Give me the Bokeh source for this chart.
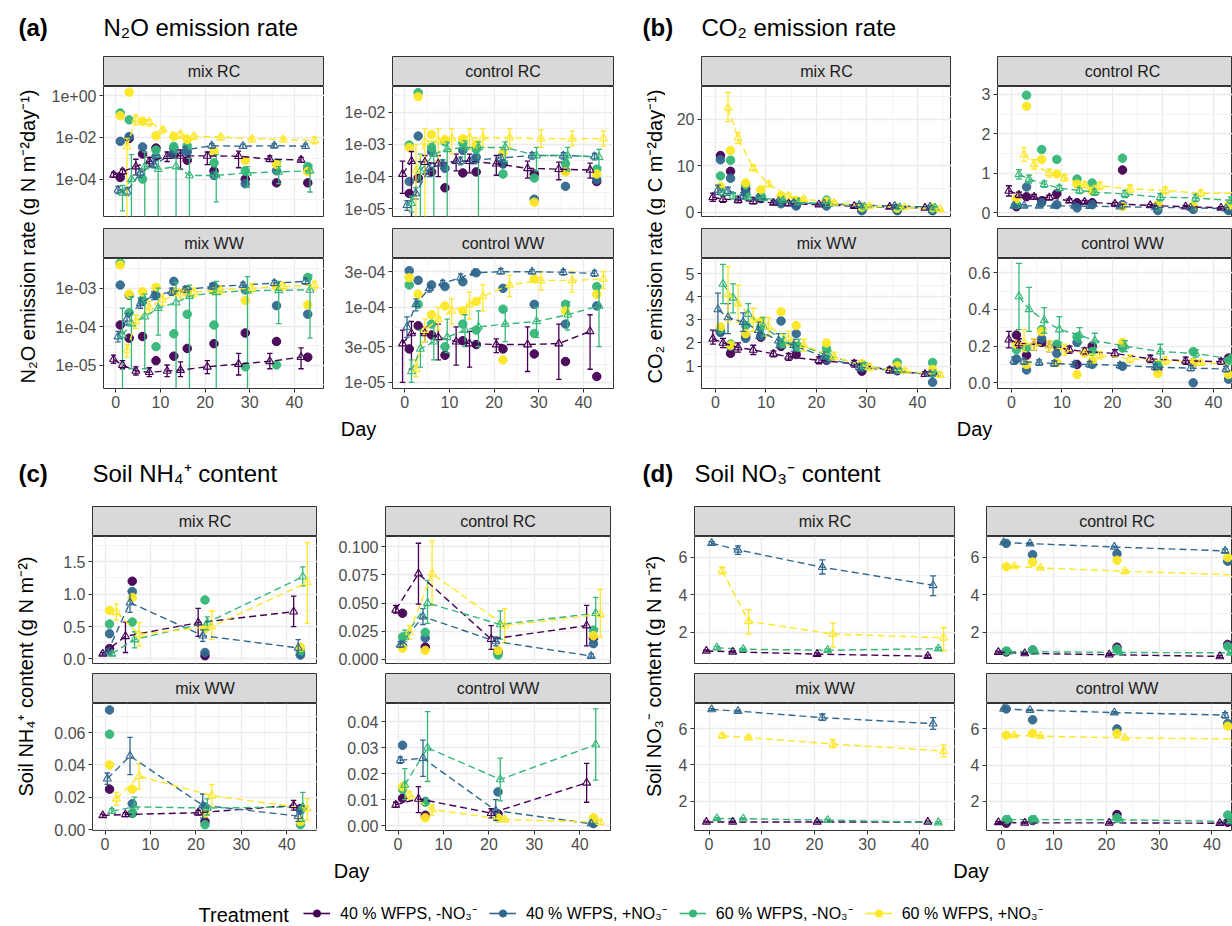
import math
import numpy as np
from bokeh.plotting import figure
from bokeh.layouts import row, column
from bokeh.models import (Range1d, LinearAxis, LogAxis, Grid, FixedTicker, LogScale,
                          NumeralTickFormatter, CustomJSTickFormatter, Label, Legend, LegendItem)
from bokeh.embed import file_html
from bokeh.resources import INLINE

FONT = "Liberation Sans"
COLORS = ["#440154", "#31688E", "#35B779", "#FDE725"]
TREATMENTS = ["40 % WFPS, -NO\u2083\u207b", "40 % WFPS, +NO\u2083\u207b",
              "60 % WFPS, -NO\u2083\u207b", "60 % WFPS, +NO\u2083\u207b"]
DODGE = [-1.5, -0.5, 0.5, 1.5]
GAS_DAYS = [1, 3, 6, 9, 13, 16, 22, 29, 36, 43]
SOIL_DAYS = [1, 6, 22, 43]
X_TICKS = [0, 10, 20, 30, 40]
X_MINOR = [5, 15, 25, 35, 45]
FACETS = ["mix RC", "control RC", "mix WW", "control WW"]

# ---------------- (a) N2O emission rate ----------------
N2O_MIX_RC_MEAN = [[1.6e-4, 2.3e-4, 4e-4, 7e-4, 1.26e-3, 1.3e-3, 1.3e-3, 1.26e-3, 9e-4, 8.3e-4],
                   [3e-5, 2.5e-5, 2e-4, 5e-4, 1.5e-3, 2.5e-3, 4e-3, 3.8e-3, 4e-3, 3.8e-3],
                   [2.2e-5, 1e-4, 4e-4, 3e-4, 4e-4, 1.5e-4, 1.5e-4, 2e-4, 2.2e-4, 2.5e-4],
                   [3.7e-3, 7.4e-2, 5.5e-2, 2.4e-2, 1.4e-2, 1.15e-2, 1.05e-2, 8.5e-3, 8e-3, 7.2e-3]]
N2O_MIX_RC_LO = [[1.2e-4, 1.7e-4, 1.6e-4, 4e-4, 7e-4, 3e-4, 5e-4, 3.5e-4, 7e-4, 6.5e-4],
                 [2e-5, 1.6e-5, 1.2e-4, 3.5e-4, 1e-3, 1.8e-3, 3e-3, 3e-3, 3.2e-3, 3e-3],
                 [3e-6, 0, 0, 0, 0, 0, 8e-6, 4e-5, 6e-5, 2.4e-5],
                 [0, 4e-2, 3.5e-2, 1.6e-2, 9e-3, 8e-3, 7.5e-3, 6e-3, 6e-3, 5e-3]]
N2O_MIX_RC_HI = [[2.1e-4, 3e-4, 9e-4, 1.1e-3, 2e-3, 2.5e-3, 2e-3, 2.2e-3, 1.3e-3, 1.1e-3],
                 [4.5e-5, 4e-5, 3e-4, 7e-4, 2e-3, 3.5e-3, 5e-3, 4.8e-3, 5e-3, 4.8e-3],
                 [5e-5, 1.5e-3, 2e-3, 1.2e-3, 2e-3, 1e-3, 1.5e-3, 4e-4, 4e-4, 4.8e-4],
                 [9e-3, 1.2e-1, 7e-2, 3e-2, 1.8e-2, 1.4e-2, 1.3e-2, 1.1e-2, 1e-2, 1e-2]]
N2O_MIX_RC_PTS = [[1.2e-4, 9e-3, 1.6e-3, 3.1e-3, 1.6e-3, 8e-4, 2.5e-4, 1e-4, 6.6e-5, 6.6e-5],
                  [6.5e-3, 1.1e-2, 3.5e-3, 1.2e-3, 3e-3, 2e-3, 1.5e-4, 6e-5, 2.5e-4, 3e-4],
                  [0.15, 0.07, 1e-4, 2.5e-3, 3.7e-3, 4e-3, 6e-4, 2.5e-4, 6e-4, 4e-4],
                  [0.11, 1.5, 0.06, 1.2e-2, 1.1e-2, 8e-3, 2.2e-3, 8e-4, 5e-4, 2.3e-4]]

N2O_CTRL_RC_MEAN = [[1.2e-4, 3e-4, 2.8e-4, 2.5e-4, 3e-4, 3e-4, 2.5e-4, 1.8e-4, 1.7e-4, 1.6e-4],
                    [1.3e-5, 3e-5, 1.8e-4, 2.5e-4, 3e-4, 3.2e-4, 3.8e-4, 4.5e-4, 4.5e-4, 4.2e-4],
                    [1.5e-5, 1.5e-4, 5e-4, 7e-4, 8e-4, 8e-4, 8e-4, 4.5e-4, 4.5e-4, 4e-4],
                    [1.5e-4, 1.2e-3, 1.3e-3, 1.5e-3, 1.6e-3, 1.6e-3, 1.6e-3, 1.5e-3, 1.5e-3, 1.5e-3]]
N2O_CTRL_RC_LO = [[3e-5, 0, 1.2e-4, 1e-4, 1.5e-4, 1.3e-4, 1.1e-4, 9e-5, 8e-5, 9e-5],
                  [9e-6, 2e-5, 1e-4, 1.8e-4, 2.3e-4, 2.5e-4, 3e-4, 3.5e-4, 3.5e-4, 3.3e-4],
                  [8e-6, 0, 0, 0, 3e-4, 0, 3e-4, 1.5e-4, 1.5e-4, 2e-4],
                  [0, 0, 3e-4, 5e-4, 7e-4, 8e-4, 8e-4, 8e-4, 9e-4, 9e-4]]
N2O_CTRL_RC_HI = [[3e-4, 6e-4, 4.5e-4, 4.5e-4, 5e-4, 5e-4, 4.5e-4, 3e-4, 2.8e-4, 2.6e-4],
                  [1.8e-5, 4.5e-5, 2.5e-4, 3.3e-4, 4e-4, 4e-4, 4.8e-4, 5.5e-4, 5.5e-4, 5.2e-4],
                  [2.5e-5, 5e-4, 1.2e-3, 1.2e-3, 1.3e-3, 1.2e-3, 1.2e-3, 8e-4, 8e-4, 7e-4],
                  [1e-3, 3e-3, 3e-3, 3e-3, 3e-3, 3e-3, 3e-3, 2.8e-3, 2.6e-3, 2.6e-3]]
N2O_CTRL_RC_PTS = [[3e-5, 9e-5, 1.4e-4, 4.5e-5, 1.3e-4, 1.4e-4, 2.5e-4, 1.2e-4, 1.5e-4, 7e-5],
                   [7e-5, 1.8e-3, 6e-4, 1.8e-4, 6.5e-4, 4e-4, 2.5e-4, 2e-5, 5e-5, 8e-5],
                   [9.5e-4, 4e-2, 8e-4, 1.2e-3, 1.1e-3, 7e-4, 1.2e-4, 9e-5, 2.5e-4, 1.7e-4],
                   [8e-4, 3e-2, 2e-3, 1.4e-3, 1.5e-3, 1e-3, 5.5e-4, 1.6e-5, 1.4e-4, 1.2e-4]]

N2O_MIX_WW_MEAN = [[1.4e-5, 1e-5, 7e-6, 6.5e-6, 7e-6, 7.4e-6, 9e-6, 1.06e-5, 1.25e-5, 1.6e-5],
                   [5.5e-5, 1.6e-4, 4e-4, 6.5e-4, 8e-4, 9e-4, 1.1e-3, 1.2e-3, 1.35e-3, 1.5e-3],
                   [6e-5, 1.2e-4, 1.8e-4, 3e-4, 4.2e-4, 6.2e-4, 7.8e-4, 8.5e-4, 8.8e-4, 9e-4],
                   [2.4e-5, 1.35e-4, 3.2e-4, 5e-4, 7.2e-4, 7.8e-4, 9e-4, 1e-3, 1.1e-3, 1.2e-3]]
N2O_MIX_WW_LO = [[1.1e-5, 8e-6, 5.5e-6, 5e-6, 5e-6, 5e-6, 6e-6, 5.5e-6, 8e-6, 8e-6],
                 [4e-5, 1.1e-4, 3e-4, 5e-4, 6.5e-4, 7.5e-4, 9e-4, 1e-3, 1.15e-3, 1.25e-3],
                 [0, 8e-6, 8e-6, 6e-5, 0, 0, 0, 0, 1.2e-4, 5e-5],
                 [1.6e-5, 9e-5, 2.2e-4, 3.5e-4, 5.5e-4, 6e-4, 7e-4, 8e-4, 9e-4, 9e-4]]
N2O_MIX_WW_HI = [[1.8e-5, 1.3e-5, 9e-6, 8.5e-6, 1e-5, 1.2e-5, 1.3e-5, 2e-5, 2e-5, 2.8e-5],
                 [7.5e-5, 2.2e-4, 5.5e-4, 8e-4, 1e-3, 1.1e-3, 1.3e-3, 1.4e-3, 1.6e-3, 1.8e-3],
                 [3e-4, 6e-4, 7e-4, 1e-3, 1.4e-3, 1.2e-3, 1.5e-3, 2e-3, 1.5e-3, 2.2e-3],
                 [3.5e-5, 2e-4, 4.5e-4, 7e-4, 9.5e-4, 1e-3, 1.15e-3, 1.3e-3, 1.4e-3, 1.5e-3]]
N2O_MIX_WW_PTS = [[1.1e-4, 5e-5, 5.5e-5, 1.3e-5, 1.7e-5, 2.7e-5, 3.6e-5, 6.8e-5, 4.1e-5, 1.6e-5],
                  [1.2e-3, 6.5e-4, 4.5e-4, 6.5e-4, 1.5e-3, 9e-4, 1.1e-3, 9e-4, 3.5e-4, 2.1e-4],
                  [4.5e-3, 2.3e-4, 5e-4, 3e-5, 6.5e-5, 2.1e-4, 1.1e-4, 9e-6, 1e-5, 1.9e-3],
                  [4e-3, 7e-4, 8e-4, 1.05e-3, 8e-4, 8e-4, 8.5e-4, 4.8e-4, 1.1e-3, 3.7e-4]]

N2O_CTRL_WW_MEAN = [[3.3e-5, 4.5e-5, 4.5e-5, 4e-5, 3.5e-5, 3.3e-5, 3.2e-5, 3.2e-5, 3.3e-5, 4.8e-5],
                    [5.5e-5, 1.1e-4, 1.8e-4, 2.1e-4, 2.5e-4, 2.9e-4, 3e-4, 3e-4, 2.95e-4, 2.85e-4],
                    [1.4e-5, 2.8e-5, 3.5e-5, 4e-5, 5e-5, 5.5e-5, 6e-5, 6.5e-5, 8e-5, 1.05e-4],
                    [1.5e-5, 5e-5, 7e-5, 9e-5, 1.1e-4, 1.4e-4, 2e-4, 2.3e-4, 2.3e-4, 2.4e-4]]
N2O_CTRL_WW_LO = [[1e-5, 1.5e-5, 3.5e-5, 2e-5, 1.7e-5, 1.6e-5, 2.5e-5, 1.4e-5, 1.1e-5, 1.5e-5],
                  [4e-5, 9e-5, 1.6e-4, 1.9e-4, 2.3e-4, 2.7e-4, 2.8e-4, 2.8e-4, 2.7e-4, 2.6e-4],
                  [1e-5, 1.6e-5, 2e-5, 2.5e-5, 3e-5, 3e-5, 3.5e-5, 4e-5, 5e-5, 3e-5],
                  [1.2e-5, 3.5e-5, 5e-5, 6e-5, 7e-5, 9e-5, 1.4e-4, 1.7e-4, 1.6e-4, 1.8e-4]]
N2O_CTRL_WW_HI = [[5e-5, 6.5e-5, 5.5e-5, 6e-5, 5.5e-5, 4.8e-5, 3.8e-5, 5.5e-5, 6e-5, 8e-5],
                  [7.5e-5, 1.3e-4, 2e-4, 2.3e-4, 2.8e-4, 3.1e-4, 3.3e-4, 3.2e-4, 3.2e-4, 3.1e-4],
                  [2e-5, 5e-5, 6e-5, 7e-5, 8e-5, 9e-5, 9e-5, 1e-4, 1.2e-4, 1.9e-4],
                  [2e-5, 7e-5, 1e-4, 1.3e-4, 1.6e-4, 2e-4, 2.7e-4, 3e-4, 3e-4, 3e-4]]
N2O_CTRL_WW_PTS = [[2.8e-5, 5.7e-5, 4.3e-5, 2.3e-5, 3.6e-5, 3.2e-5, 2.8e-5, 2.4e-5, 1.9e-5, 1.2e-5],
                   [3.1e-4, 2.3e-4, 2e-4, 1.9e-4, 2.2e-4, 2.9e-4, 1.8e-4, 1.1e-4, 6e-5, 1.05e-4],
                   [2e-4, 1.1e-4, 6e-5, 3e-5, 6e-5, 5e-5, 9.5e-5, 4.5e-5, 1.1e-4, 1.9e-4],
                   [2.5e-4, 1.5e-4, 8e-5, 1.05e-4, 9e-5, 1.2e-4, 2e-5, 2.4e-4, 9e-5, 1.5e-4]]

# ---------------- (b) CO2 emission rate ----------------
CO2_MIX_RC_MEAN = [[3.2, 2.8, 2.6, 2.3, 2.0, 1.8, 1.6, 1.3, 1.1, 0.9],
                   [4.8, 4.5, 3.5, 3.0, 2.3, 2.0, 1.8, 1.5, 1.3, 1.1],
                   [4.2, 3.5, 3.2, 3.0, 2.5, 2.2, 1.7, 1.2, 1.0, 0.9],
                   [22.5, 16.0, 9.5, 6.0, 3.5, 2.8, 2.0, 1.3, 1.0, 0.6]]
CO2_MIX_RC_LO = [[2.3, 2.1, 2.0, 1.8, 1.6, 1.4, 1.3, 1.0, 0.8, 0.7],
                 [3.8, 3.6, 2.8, 2.5, 1.9, 1.6, 1.4, 1.1, 1.0, 0.8],
                 [3.4, 2.8, 2.6, 2.5, 2.0, 1.8, 1.3, 0.9, 0.7, 0.6],
                 [19.5, 14.8, 8.9, 5.5, 3.0, 2.4, 1.6, 1.0, 0.7, 0.4]]
CO2_MIX_RC_HI = [[4.1, 3.5, 3.2, 2.8, 2.4, 2.2, 1.9, 1.6, 1.4, 1.1],
                 [5.8, 5.4, 4.2, 3.5, 2.7, 2.4, 2.2, 1.9, 1.6, 1.4],
                 [5.0, 4.2, 3.8, 3.5, 3.0, 2.6, 2.1, 1.5, 1.3, 1.2],
                 [25.8, 17.2, 10.1, 6.5, 4.0, 3.2, 2.4, 1.6, 1.3, 0.8]]
CO2_MIX_RC_PTS = [[12.2, 8.8, 5.0, 3.2, 2.2, 1.6, 1.9, 0.5, 0.5, 0.4],
                  [11.3, 7.3, 4.2, 2.9, 1.8, 1.3, 1.3, 0.3, 0.3, 0.3],
                  [7.8, 11.2, 5.8, 3.5, 2.5, 2.3, 2.6, 0.9, 0.8, 0.7],
                  [5.5, 13.3, 6.3, 4.8, 3.5, 2.5, 2.3, 1.1, 0.9, 1.0]]

CO2_CTRL_RC_MEAN = [[0.55, 0.45, 0.4, 0.38, 0.3, 0.27, 0.22, 0.18, 0.15, 0.12],
                    [0.17, 0.17, 0.17, 0.17, 0.17, 0.16, 0.15, 0.13, 0.12, 0.1],
                    [0.97, 0.85, 0.72, 0.62, 0.56, 0.52, 0.47, 0.39, 0.37, 0.31],
                    [1.47, 1.22, 1.0, 0.88, 0.7, 0.68, 0.6, 0.56, 0.49, 0.49]]
CO2_CTRL_RC_LO = [[0.42, 0.38, 0.34, 0.32, 0.25, 0.23, 0.18, 0.15, 0.12, 0.09],
                  [0.13, 0.14, 0.14, 0.14, 0.14, 0.13, 0.12, 0.1, 0.09, 0.07],
                  [0.85, 0.75, 0.64, 0.55, 0.48, 0.44, 0.38, 0.3, 0.28, 0.22],
                  [1.3, 1.1, 0.9, 0.8, 0.62, 0.58, 0.5, 0.47, 0.41, 0.42]]
CO2_CTRL_RC_HI = [[0.68, 0.52, 0.46, 0.44, 0.35, 0.31, 0.26, 0.21, 0.18, 0.15],
                  [0.21, 0.2, 0.2, 0.2, 0.2, 0.19, 0.18, 0.16, 0.15, 0.13],
                  [1.09, 0.95, 0.8, 0.69, 0.64, 0.6, 0.56, 0.48, 0.46, 0.4],
                  [1.65, 1.34, 1.1, 0.96, 0.78, 0.78, 0.7, 0.65, 0.57, 0.56]]
CO2_CTRL_RC_PTS = [[0.15, 0.4, 0.3, 0.48, 0.25, 0.25, 1.08, 0.18, 0.13, 0.1],
                   [0.2, 0.65, 0.25, 0.2, 0.12, 0.2, 0.2, 0.05, 0.08, 0.05],
                   [0.2, 2.98, 1.6, 1.35, 0.85, 0.75, 1.38, 0.15, 0.15, 0.15],
                   [0.35, 2.7, 1.35, 0.98, 0.72, 0.55, 0.15, 0.2, 0.17, 0.18]]

CO2_MIX_WW_MEAN = [[2.18, 2.0, 1.8, 1.7, 1.53, 1.4, 1.25, 1.1, 0.82, 0.65],
                   [3.45, 3.1, 2.9, 2.55, 2.1, 1.9, 1.4, 0.95, 0.8, 0.65],
                   [4.55, 3.95, 3.25, 2.7, 2.1, 1.9, 1.45, 1.0, 0.78, 0.65],
                   [4.1, 3.7, 3.0, 2.7, 2.2, 1.9, 1.4, 0.95, 0.78, 0.62]]
CO2_MIX_WW_LO = [[1.95, 1.8, 1.6, 1.5, 1.4, 1.25, 1.1, 0.95, 0.7, 0.55],
                 [2.5, 2.4, 2.5, 2.2, 1.8, 1.65, 1.2, 0.8, 0.7, 0.55],
                 [3.7, 3.3, 2.8, 2.3, 1.8, 1.65, 1.25, 0.85, 0.68, 0.55],
                 [2.9, 2.9, 2.5, 2.3, 1.9, 1.65, 1.2, 0.8, 0.68, 0.52]]
CO2_MIX_WW_HI = [[2.55, 2.2, 2.0, 1.9, 1.66, 1.55, 1.4, 1.25, 0.94, 0.75],
                 [4.15, 3.7, 3.3, 2.9, 2.4, 2.15, 1.6, 1.1, 0.9, 0.75],
                 [5.4, 4.55, 3.7, 3.1, 2.4, 2.15, 1.65, 1.15, 0.88, 0.75],
                 [5.3, 4.5, 3.5, 3.1, 2.5, 2.15, 1.6, 1.1, 0.88, 0.72]]
CO2_MIX_WW_PTS = [[2.5, 1.55, 2.3, 2.25, 1.85, 1.5, 1.25, 0.78, 0.8, 0.7],
                  [2.45, 1.85, 2.2, 2.3, 2.95, 2.4, 1.3, 0.95, 0.95, 0.3],
                  [2.6, 1.95, 2.75, 2.7, 1.95, 1.85, 1.75, 1.05, 1.15, 1.15],
                  [2.7, 1.9, 2.4, 2.95, 3.35, 2.75, 2.0, 1.1, 1.0, 0.85]]

CO2_CTRL_WW_MEAN = [[0.235, 0.215, 0.21, 0.2, 0.18, 0.17, 0.16, 0.13, 0.12, 0.115],
                    [0.12, 0.115, 0.11, 0.105, 0.1, 0.1, 0.095, 0.085, 0.08, 0.075],
                    [0.47, 0.4, 0.34, 0.29, 0.26, 0.23, 0.2, 0.17, 0.16, 0.13],
                    [0.22, 0.21, 0.2, 0.18, 0.16, 0.15, 0.13, 0.12, 0.11, 0.1]]
CO2_CTRL_WW_LO = [[0.19, 0.19, 0.18, 0.17, 0.16, 0.15, 0.14, 0.11, 0.1, 0.1],
                  [0.1, 0.1, 0.095, 0.09, 0.085, 0.085, 0.08, 0.07, 0.065, 0.06],
                  [0.29, 0.28, 0.27, 0.22, 0.22, 0.19, 0.17, 0.12, 0.14, 0.11],
                  [0.17, 0.18, 0.17, 0.15, 0.14, 0.13, 0.11, 0.1, 0.095, 0.085]]
CO2_CTRL_WW_HI = [[0.28, 0.24, 0.24, 0.23, 0.2, 0.19, 0.18, 0.15, 0.14, 0.13],
                  [0.14, 0.13, 0.125, 0.12, 0.115, 0.115, 0.11, 0.1, 0.095, 0.09],
                  [0.65, 0.52, 0.41, 0.36, 0.3, 0.27, 0.23, 0.21, 0.18, 0.15],
                  [0.29, 0.24, 0.23, 0.21, 0.18, 0.17, 0.15, 0.14, 0.125, 0.115]]
CO2_CTRL_WW_PTS = [[0.26, 0.15, 0.22, 0.2, 0.1, 0.2, 0.2, 0.08, 0.11, 0.135],
                   [0.13, 0.07, 0.24, 0.16, 0.22, 0.1, 0.09, 0.09, 0.0, 0.02],
                   [0.18, 0.19, 0.29, 0.21, 0.25, 0.17, 0.19, 0.1, 0.17, 0.12],
                   [0.21, 0.1, 0.28, 0.11, 0.045, 0.12, 0.22, 0.05, 0.11, 0.045]]

# ---------------- (c) Soil NH4+ content ----------------
NH4_MIX_RC_MEAN = [[0.08, 0.35, 0.56, 0.73], [0.1, 0.87, 0.36, 0.17],
                   [0.08, 0.3, 0.56, 1.27], [0.72, 0.38, 0.5, 1.18]]
NH4_MIX_RC_LO = [[0.06, 0.1, 0.35, 0.5], [0.08, 0.72, 0.27, 0.05],
                 [0.05, 0.17, 0.45, 1.13], [0.6, 0.2, 0.3, 0.55]]
NH4_MIX_RC_HI = [[0.1, 0.57, 0.78, 0.97], [0.12, 1.05, 0.45, 0.3],
                 [0.11, 0.42, 0.65, 1.42], [0.85, 0.56, 0.74, 1.8]]
NH4_MIX_RC_PTS = [[0.16, 1.2, 0.05, 0.09], [0.39, 1.04, 0.1, 0.06],
                  [0.54, 0.57, 0.91, 0.12], [0.75, 0.95, 0.47, 0.18]]

NH4_CTRL_RC_MEAN = [[0.044, 0.076, 0.018, 0.03], [0.013, 0.038, 0.016, 0.003],
                    [0.02, 0.05, 0.031, 0.041], [0.024, 0.076, 0.03, 0.04]]
NH4_CTRL_RC_LO = [[0.041, 0.049, 0.009, 0.012], [0.011, 0.031, 0.012, 0.002],
                  [0.016, 0.032, 0.018, 0.027], [0.018, 0.048, 0.015, 0.02]]
NH4_CTRL_RC_HI = [[0.048, 0.103, 0.03, 0.048], [0.016, 0.045, 0.02, 0.005],
                  [0.026, 0.07, 0.043, 0.055], [0.03, 0.105, 0.045, 0.062]]
NH4_CTRL_RC_PTS = [[0.041, 0.011, 0.007, 0.019], [0.012, 0.019, 0.006, 0.014],
                   [0.02, 0.024, 0.004, 0.026], [0.01, 0.008, 0.008, 0.021]]

NH4_MIX_WW_MEAN = [[0.0087, 0.0093, 0.0104, 0.015], [0.0315, 0.0455, 0.015, 0.0083],
                   [0.0114, 0.014, 0.0133, 0.014], [0.019, 0.033, 0.021, 0.013]]
NH4_MIX_WW_LO = [[0.0075, 0.008, 0.009, 0.012], [0.028, 0.034, 0.007, 0.005],
                 [0.01, 0.011, 0.009, 0.005], [0.015, 0.025, 0.014, 0.006]]
NH4_MIX_WW_HI = [[0.0095, 0.0105, 0.0118, 0.018], [0.035, 0.057, 0.022, 0.012],
                 [0.013, 0.02, 0.019, 0.023], [0.023, 0.041, 0.028, 0.019]]
NH4_MIX_WW_PTS = [[0.025, 0.01, 0.005, 0.013], [0.074, 0.016, 0.014, 0.012],
                  [0.059, 0.01, 0.003, 0.003], [0.04, 0.025, 0.01, 0.005]]

NH4_CTRL_WW_MEAN = [[0.008, 0.0103, 0.0048, 0.0165], [0.0252, 0.026, 0.0058, 0.0007],
                    [0.0157, 0.03, 0.0178, 0.0312], [0.0119, 0.0062, 0.0023, 0.0013]]
NH4_CTRL_WW_LO = [[0.007, 0.005, 0.003, 0.009], [0.024, 0.019, 0.002, 0.0005],
                  [0.01, 0.017, 0.0095, 0.0175], [0.01, 0.004, 0.0015, 0.0005]]
NH4_CTRL_WW_HI = [[0.009, 0.015, 0.0065, 0.024], [0.0265, 0.033, 0.01, 0.001],
                  [0.022, 0.044, 0.026, 0.045], [0.013, 0.008, 0.003, 0.002]]
NH4_CTRL_WW_PTS = [[0.0105, 0.004, 0.0045, 0.001], [0.031, 0.0093, 0.013, 0.0008],
                   [0.014, 0.009, 0.003, 0.002], [0.015, 0.003, 0.003, 0.003]]

# ---------------- (d) Soil NO3- content ----------------
NO3_MIX_RC_MEAN = [[1.0, 0.95, 0.83, 0.72], [6.74, 6.39, 5.46, 4.5],
                   [1.17, 1.09, 1.04, 1.12], [5.28, 2.58, 1.9, 1.7]]
NO3_MIX_RC_LO = [[0.95, 0.9, 0.76, 0.65], [6.65, 6.15, 5.1, 3.95],
                 [1.1, 1.03, 0.97, 1.05], [5.1, 1.9, 1.2, 1.0]]
NO3_MIX_RC_HI = [[1.05, 1.0, 0.9, 0.79], [6.83, 6.6, 5.85, 5.0],
                 [1.24, 1.15, 1.11, 1.19], [5.45, 3.2, 2.5, 2.25]]
NO3_MIX_RC_PTS = None

NO3_CTRL_RC_MEAN = [[0.94, 0.87, 0.8, 0.71], [6.8, 6.74, 6.56, 6.35],
                    [0.96, 0.96, 0.92, 0.9], [5.52, 5.44, 5.26, 5.07]]
NO3_CTRL_RC_LO = [[0.89, 0.82, 0.75, 0.66], [6.75, 6.69, 6.51, 6.25],
                  [0.91, 0.91, 0.87, 0.85], [5.47, 5.39, 5.18, 4.87]]
NO3_CTRL_RC_HI = [[0.99, 0.92, 0.85, 0.76], [6.85, 6.79, 6.61, 6.45],
                  [1.01, 1.01, 0.97, 0.95], [5.57, 5.49, 5.34, 5.27]]
NO3_CTRL_RC_PTS = [[0.95, 1.05, 1.2, 1.35], [6.75, 6.15, 6.2, 5.8],
                   [1.0, 1.05, 1.1, 1.25], [5.5, 5.75, 5.85, 6.0]]

NO3_MIX_WW_MEAN = [[0.85, 0.85, 0.85, 0.85], [7.05, 6.96, 6.6, 6.27],
                   [1.05, 1.03, 0.95, 0.82], [5.6, 5.5, 5.15, 4.76]]
NO3_MIX_WW_LO = [[0.8, 0.8, 0.8, 0.8], [7.0, 6.9, 6.45, 5.95],
                 [1.0, 0.98, 0.9, 0.77], [5.5, 5.4, 4.95, 4.45]]
NO3_MIX_WW_HI = [[0.9, 0.9, 0.9, 0.9], [7.1, 7.02, 6.8, 6.6],
                 [1.1, 1.08, 1.0, 0.87], [5.7, 5.6, 5.4, 5.1]]
NO3_MIX_WW_PTS = None

NO3_CTRL_WW_MEAN = [[0.85, 0.82, 0.82, 0.8], [7.1, 7.04, 6.9, 6.76],
                    [1.0, 1.0, 0.99, 0.9], [5.64, 5.6, 5.5, 5.45]]
NO3_CTRL_WW_LO = [[0.8, 0.77, 0.77, 0.75], [7.05, 7.0, 6.85, 6.6],
                  [0.95, 0.95, 0.94, 0.85], [5.59, 5.55, 5.45, 5.35]]
NO3_CTRL_WW_HI = [[0.9, 0.87, 0.87, 0.85], [7.15, 7.08, 6.95, 6.9],
                  [1.05, 1.05, 1.04, 0.95], [5.69, 5.65, 5.55, 5.55]]
NO3_CTRL_WW_PTS = [[0.8, 0.95, 1.28, 0.85], [7.1, 6.5, 6.0, 6.3],
                   [1.0, 1.0, 1.1, 1.25], [5.65, 5.75, 5.75, 6.15]]

# ---------------- axis settings per facet ----------------
LOGFMT = "log"
PANELS = [
    dict(tag="(a)", title="N\u2082O emission rate",
         ylabel="N\u2082O emission rate (g N m\u207b\u00b2day\u207b\u00b9)",
         days=GAS_DAYS, log=True,
         data=[(N2O_MIX_RC_MEAN, N2O_MIX_RC_LO, N2O_MIX_RC_HI, N2O_MIX_RC_PTS),
               (N2O_CTRL_RC_MEAN, N2O_CTRL_RC_LO, N2O_CTRL_RC_HI, N2O_CTRL_RC_PTS),
               (N2O_MIX_WW_MEAN, N2O_MIX_WW_LO, N2O_MIX_WW_HI, N2O_MIX_WW_PTS),
               (N2O_CTRL_WW_MEAN, N2O_CTRL_WW_LO, N2O_CTRL_WW_HI, N2O_CTRL_WW_PTS)],
         yr=[(1.6e-6, 2.8), (5.8e-6, 6.2e-2), (2.45e-6, 5.9e-3), (8.3e-6, 4.5e-4)],
         yt=[[1e-4, 1e-2, 1], [1e-5, 1e-4, 1e-3, 1e-2], [1e-5, 1e-4, 1e-3], [1e-5, 3e-5, 1e-4, 3e-4]],
         ym=[[1e-5, 1e-3, 1e-1], [10**-5.5, 10**-4.5, 10**-3.5, 10**-2.5, 10**-1.5],
             [10**-5.5, 10**-4.5, 10**-3.5, 10**-2.5], [10**-4.761, 10**-4.261, 10**-3.761]],
         yf=[LOGFMT] * 4),
    dict(tag="(b)", title="CO\u2082 emission rate",
         ylabel="CO\u2082 emission rate (g C m\u207b\u00b2day\u207b\u00b9)",
         days=GAS_DAYS, log=False,
         data=[(CO2_MIX_RC_MEAN, CO2_MIX_RC_LO, CO2_MIX_RC_HI, CO2_MIX_RC_PTS),
               (CO2_CTRL_RC_MEAN, CO2_CTRL_RC_LO, CO2_CTRL_RC_HI, CO2_CTRL_RC_PTS),
               (CO2_MIX_WW_MEAN, CO2_MIX_WW_LO, CO2_MIX_WW_HI, CO2_MIX_WW_PTS),
               (CO2_CTRL_WW_MEAN, CO2_CTRL_WW_LO, CO2_CTRL_WW_HI, CO2_CTRL_WW_PTS)],
         yr=[(-0.95, 27.1), (-0.1, 3.2), (0.03, 5.65), (-0.031, 0.677)],
         yt=[[0, 10, 20], [0, 1, 2, 3], [1, 2, 3, 4, 5], [0, 0.2, 0.4, 0.6]],
         ym=[[5, 15, 25], [0.5, 1.5, 2.5], [0.5, 1.5, 2.5, 3.5, 4.5, 5.5], [0.1, 0.3, 0.5]],
         yf=["0", "0", "0", "0.0"]),
    dict(tag="(c)", title="Soil NH\u2084\u207a content",
         ylabel="Soil NH\u2084\u207a content (g N m\u207b\u00b2)",
         days=SOIL_DAYS, log=False,
         data=[(NH4_MIX_RC_MEAN, NH4_MIX_RC_LO, NH4_MIX_RC_HI, NH4_MIX_RC_PTS),
               (NH4_CTRL_RC_MEAN, NH4_CTRL_RC_LO, NH4_CTRL_RC_HI, NH4_CTRL_RC_PTS),
               (NH4_MIX_WW_MEAN, NH4_MIX_WW_LO, NH4_MIX_WW_HI, NH4_MIX_WW_PTS),
               (NH4_CTRL_WW_MEAN, NH4_CTRL_WW_LO, NH4_CTRL_WW_HI, NH4_CTRL_WW_PTS)],
         yr=[(-0.07, 1.89), (-0.0036, 0.109), (-0.0006, 0.078), (-0.0019, 0.0471)],
         yt=[[0, 0.5, 1.0, 1.5], [0, 0.025, 0.05, 0.075, 0.1], [0, 0.02, 0.04, 0.06],
             [0, 0.01, 0.02, 0.03, 0.04]],
         ym=[[0.25, 0.75, 1.25, 1.75], [0.0125, 0.0375, 0.0625, 0.0875], [0.01, 0.03, 0.05, 0.07],
             [0.005, 0.015, 0.025, 0.035, 0.045]],
         yf=["0.0", "0.000", "0.00", "0.00"]),
    dict(tag="(d)", title="Soil NO\u2083\u207b content",
         ylabel="Soil NO\u2083\u207b content (g N m\u207b\u00b2)",
         days=SOIL_DAYS, log=False,
         data=[(NO3_MIX_RC_MEAN, NO3_MIX_RC_LO, NO3_MIX_RC_HI, NO3_MIX_RC_PTS),
               (NO3_CTRL_RC_MEAN, NO3_CTRL_RC_LO, NO3_CTRL_RC_HI, NO3_CTRL_RC_PTS),
               (NO3_MIX_WW_MEAN, NO3_MIX_WW_LO, NO3_MIX_WW_HI, NO3_MIX_WW_PTS),
               (NO3_CTRL_WW_MEAN, NO3_CTRL_WW_LO, NO3_CTRL_WW_HI, NO3_CTRL_WW_PTS)],
         yr=[(0.33, 7.1), (0.33, 7.12), (0.38, 7.38), (0.4, 7.4)],
         yt=[[2, 4, 6]] * 4, ym=[[1, 3, 5, 7]] * 4, yf=["0"] * 4),
]

# layout geometry (pixels)
GEOM = [
    dict(pw=620, yw=45, l1=58, w=221, l2=68, w2=221, pad=7, tagx=18, ylx=27),
    dict(pw=612, yw=45, l1=36, w=250, l2=46, w2=235, pad=0, tagx=22, ylx=34),
    dict(pw=620, yw=45, l1=47, w=225, l2=68, w2=225, pad=10, tagx=18, ylx=25),
    dict(pw=612, yw=45, l1=29, w=261, l2=31, w2=246, pad=0, tagx=22, ylx=33),
]
ROWGEOM = [dict(title_h=56, tag_y=29, fh=130, gap=12, bot=25, day_h=37, day_y=22, yl_y=177),
           dict(title_h=56, tag_y=33, fh=127, gap=10, bot=25, day_h=40, day_y=25, yl_y=179)]
STRIP_H = 30
X0, X1 = -2.75, 46.75
TICK_FS = "16px"
STRIP_FS = "16px"
TITLE_FS = "20px"
HEAD_FS = "24px"

LOG_JS = """
const e = Math.floor(Math.log10(tick) + 1e-9);
const m = Math.round(tick / Math.pow(10, e));
const ae = Math.abs(e);
return m + "e" + (e < 0 ? "-" : "+") + (ae < 10 ? "0" : "") + ae;
"""


def blank(w, h):
    p = figure(width=w, height=h, x_range=Range1d(0, w), y_range=Range1d(0, h),
               x_axis_type=None, y_axis_type=None, toolbar_location=None,
               output_backend="svg", outline_line_color=None,
               background_fill_color=None, border_fill_color="white",
               min_border_left=0, min_border_right=0, min_border_top=0, min_border_bottom=0)
    return p


def strip_fig(text, left, fw, full_w, pad):
    p = figure(width=left + fw + pad, height=STRIP_H, x_range=Range1d(0, fw), y_range=Range1d(0, 1),
               x_axis_type=None, y_axis_type=None, toolbar_location=None, output_backend="svg",
               min_border_left=left, min_border_right=pad, min_border_top=0, min_border_bottom=0,
               background_fill_color="#D9D9D9", border_fill_color="white",
               outline_line_color="#333333", outline_line_width=1)
    p.add_layout(Label(x=full_w / 2, y=0.5, text=text, text_align="center", text_baseline="middle",
                       text_font=FONT, text_font_size=STRIP_FS, text_color="#1A1A1A"))
    return p


def style_axis(ax):
    ax.axis_line_color = None
    ax.major_tick_line_color = "#333333"
    ax.major_tick_line_width = 1
    ax.major_tick_out = 4
    ax.major_tick_in = 0
    ax.minor_tick_line_color = None
    ax.major_label_text_color = "#4D4D4D"
    ax.major_label_text_font = FONT
    ax.major_label_text_font_size = TICK_FS
    ax.major_label_standoff = 3


def facet_fig(left, fw, pad, fh, bottom, xend, show_x, cfg, i):
    log = cfg["log"]
    mean, lo, hi, pts = cfg["data"][i]
    days = cfg["days"]
    y0, y1 = cfg["yr"][i]
    p = figure(width=left + fw + pad, height=fh + bottom, x_range=Range1d(X0, xend),
               y_range=Range1d(y0, y1), x_axis_type=None, y_axis_type=None,
               toolbar_location=None, output_backend="svg",
               min_border_left=left, min_border_right=pad, min_border_top=0,
               min_border_bottom=bottom, background_fill_color="white",
               border_fill_color="white", outline_line_color="#333333", outline_line_width=1)
    if log:
        p.y_scale = LogScale()
    xt = FixedTicker(ticks=X_TICKS, minor_ticks=X_MINOR)
    yt = FixedTicker(ticks=cfg["yt"][i], minor_ticks=cfg["ym"][i])
    for dim, tk in ((0, xt), (1, yt)):
        p.add_layout(Grid(dimension=dim, ticker=tk, grid_line_color="#EBEBEB", grid_line_width=1.3,
                          minor_grid_line_color="#F0F0F0", minor_grid_line_width=0.8), "center")
    if show_x:
        xa = LinearAxis(ticker=xt, formatter=NumeralTickFormatter(format="0"))
        style_axis(xa)
        p.add_layout(xa, "below")
    if log:
        ya = LogAxis(ticker=yt, formatter=CustomJSTickFormatter(code=LOG_JS))
    else:
        ya = LinearAxis(ticker=yt, formatter=NumeralTickFormatter(format=cfg["yf"][i]))
    style_axis(ya)
    p.add_layout(ya, "left")

    floor = y0 * 1e-3 if log else y0 - (y1 - y0)
    cap = 0.6
    # raw observations
    if pts is not None:
        for t in range(4):
            xs = [d for d, v in zip(days, pts[t]) if v is not None]
            ys = [v for v in pts[t] if v is not None]
            if log:
                ys = [v if v > 0 else floor for v in ys]
            p.scatter(xs, ys, marker="circle", size=8.5, fill_color=COLORS[t], line_color=COLORS[t],
                      fill_alpha=0.95, line_alpha=0.95)
    # error bars
    for t in range(4):
        xs = [d + DODGE[t] for d in days]
        los = [v if (v > 0 or not log) else floor for v in lo[t]]
        his = hi[t]
        p.segment(x0=xs, y0=los, x1=xs, y1=his, line_color=COLORS[t], line_width=1.3)
        p.segment(x0=[x - cap for x in xs], y0=his, x1=[x + cap for x in xs], y1=his,
                  line_color=COLORS[t], line_width=1.3)
        p.segment(x0=[x - cap for x in xs], y0=los, x1=[x + cap for x in xs], y1=los,
                  line_color=COLORS[t], line_width=1.3)
    # dashed mean lines
    for t in range(4):
        xs = [d + DODGE[t] for d in days]
        p.line(xs, mean[t], line_color=COLORS[t], line_width=1.4, line_dash="7 4")
    # mean markers
    for t in range(4):
        xs = [d + DODGE[t] for d in days]
        p.scatter(xs, mean[t], marker="triangle", size=8, fill_color=None,
                  line_color=COLORS[t], line_width=1.1)
    return p


def build_panel(cfg, g, rg):
    pw = g["pw"]
    tfig = blank(pw, rg["title_h"])
    tfig.add_layout(Label(x=g["tagx"], y=rg["tag_y"], text=cfg["tag"], text_font=FONT,
                          text_font_size=HEAD_FS, text_font_style="bold", text_baseline="middle",
                          text_color="black"))
    tfig.add_layout(Label(x=g["yw"] + g["l1"], y=rg["tag_y"], text=cfg["title"], text_font=FONT,
                          text_font_size=HEAD_FS, text_baseline="middle", text_color="black"))
    fh, gap, bot = rg["fh"], rg["gap"], rg["bot"]
    xend_r = X0 + g["w2"] * (X1 - X0) / g["w"]
    colL = column(strip_fig(FACETS[0], g["l1"], g["w"], g["w"], 0),
                  facet_fig(g["l1"], g["w"], 0, fh, gap, X1, False, cfg, 0),
                  strip_fig(FACETS[2], g["l1"], g["w"], g["w"], 0),
                  facet_fig(g["l1"], g["w"], 0, fh, bot, X1, True, cfg, 2))
    colR = column(strip_fig(FACETS[1], g["l2"], g["w2"], g["w"], g["pad"]),
                  facet_fig(g["l2"], g["w2"], g["pad"], fh, gap, xend_r, False, cfg, 1),
                  strip_fig(FACETS[3], g["l2"], g["w2"], g["w"], g["pad"]),
                  facet_fig(g["l2"], g["w2"], g["pad"], fh, bot, xend_r, True, cfg, 3))
    ch = 2 * STRIP_H + fh + gap + fh + bot
    yl = blank(g["yw"], ch)
    yl.add_layout(Label(x=g["ylx"], y=rg["yl_y"], text=cfg["ylabel"], angle=math.pi / 2,
                        text_align="center", text_baseline="middle", text_font=FONT,
                        text_font_size=TITLE_FS, text_color="black"))
    dayf = blank(pw, rg["day_h"])
    xc = g["yw"] + g["l1"] + (g["w"] + g["l2"] + g["w"]) / 2
    dayf.add_layout(Label(x=xc, y=rg["day_y"], text="Day", text_align="center",
                          text_baseline="middle", text_font=FONT, text_font_size=TITLE_FS,
                          text_color="black"))
    return column(tfig, row(yl, colL, colR), dayf)


top = row(build_panel(PANELS[0], GEOM[0], ROWGEOM[0]), build_panel(PANELS[1], GEOM[1], ROWGEOM[0]))
bottom = row(build_panel(PANELS[2], GEOM[2], ROWGEOM[1]), build_panel(PANELS[3], GEOM[3], ROWGEOM[1]))

leg = blank(1232, 31)
leg.add_layout(Label(x=198, y=12, text="Treatment", text_font=FONT, text_font_size=TITLE_FS,
                     text_baseline="middle", text_color="black"))
items = []
for c, name in zip(COLORS, TREATMENTS):
    rl = leg.line(x=[np.nan, np.nan], y=[np.nan, np.nan], line_color=c, line_width=1.6)
    rs = leg.scatter(x=[np.nan], y=[np.nan], marker="circle", size=7, fill_color=c, line_color=c)
    items.append(LegendItem(label=name, renderers=[rl, rs]))
lg = Legend(items=items, orientation="horizontal", location=(303, 2), padding=0, margin=0,
            spacing=12, glyph_width=27, glyph_height=18, label_standoff=10,
            label_text_font=FONT, label_text_font_size="16px", label_text_color="black",
            border_line_color=None, background_fill_alpha=0)
leg.add_layout(lg, "center")

root = column(top, bottom, leg)
open("out.html", "w").write(file_html(root, INLINE))
